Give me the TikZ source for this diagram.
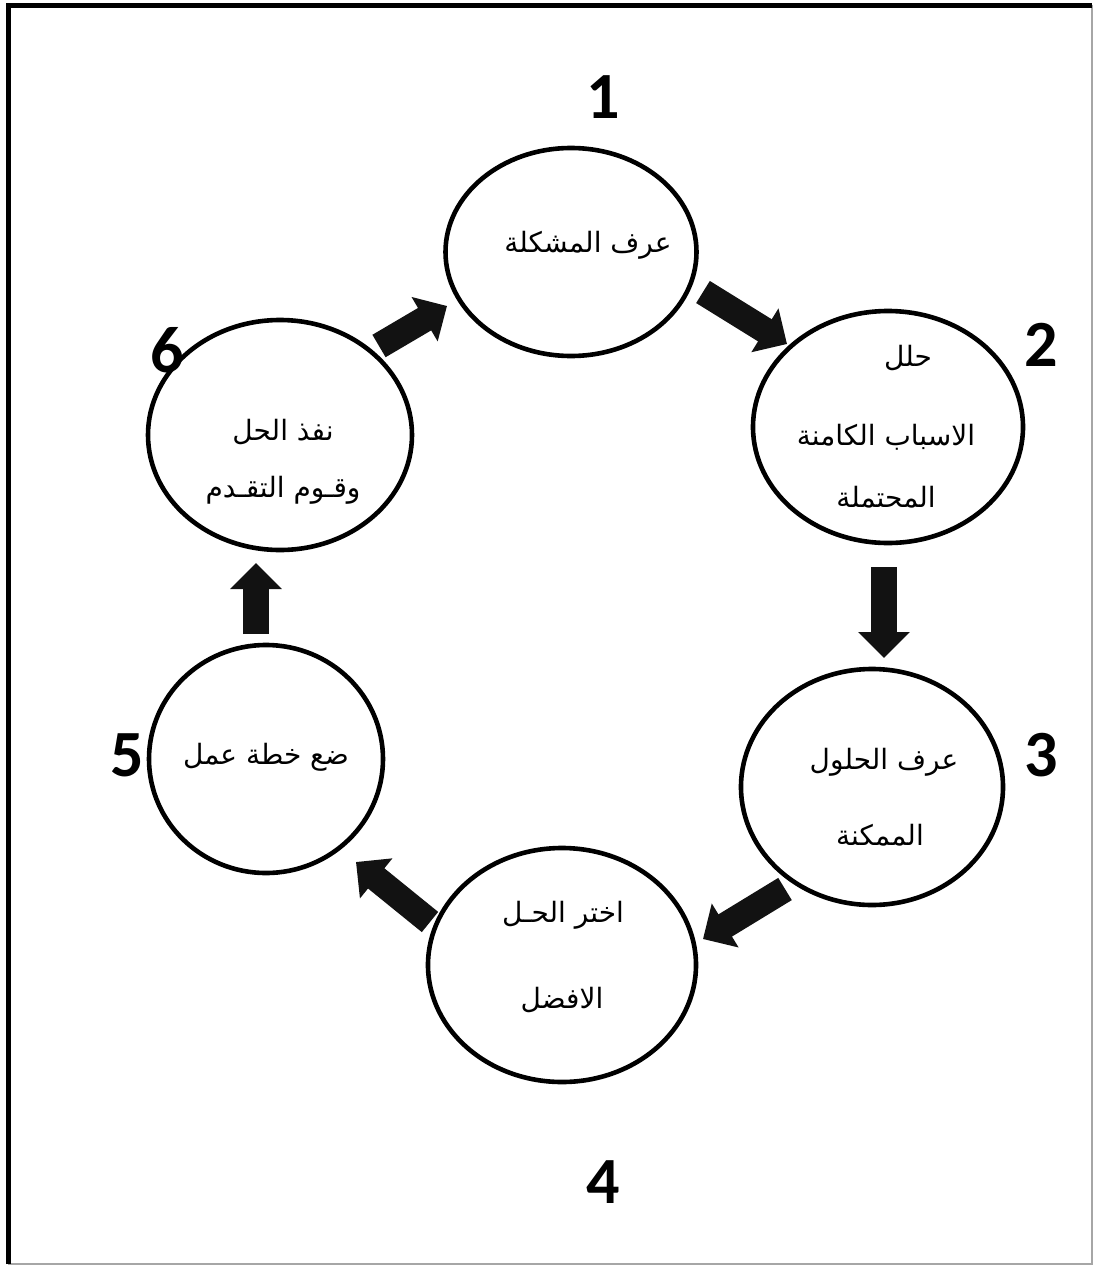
\documentclass[tikz,border=0pt]{standalone}
\usepackage{fontspec}
\usetikzlibrary{shapes.geometric,arrows.meta}
\TeXXeTstate=1
\newfontfamily\arabicfont[Script=Arabic]{DejaVu Sans}
\newfontfamily\numfont{Carlito}
\tikzset{
  stage/.style={ellipse, draw=black, line width=4.6pt, fill=white, inner sep=0pt},
  lbl/.style={font=\arabicfont\fontsize{28}{28}\selectfont, inner sep=0pt, anchor=center},
  num/.style={font=\numfont\bfseries\fontsize{66}{66}\selectfont, inner sep=0pt},
  blockarrow/.style={line width=26pt, draw=black!93, -{Triangle[width=50pt,length=26pt]}}
}
\begin{document}
\begin{tikzpicture}[x=1pt,y=-1pt]
\useasboundingbox (0,0) rectangle (1094,1266);
\fill[white] (0,0) rectangle (1094,1266);
% frame
\draw[gray!70, line width=2pt] (8,1264) -- (1092,1264) -- (1092,5);
\draw[black, line width=5pt] (8.5,1264) -- (8.5,5.5) -- (1092,5.5);

% stages
\node[stage, minimum width=251pt, minimum height=208pt] (s1) at (571,252) {};
\node[stage, minimum width=270pt, minimum height=232pt] (s2) at (888,427) {};
\node[stage, minimum width=262pt, minimum height=236pt] (s3) at (872,787) {};
\node[stage, minimum width=268pt, minimum height=234pt] (s4) at (562,965) {};
\node[stage, minimum width=234pt, minimum height=228pt] (s5) at (266,759) {};
\node[stage, minimum width=264pt, minimum height=230pt] (s6) at (280,435) {};

% texts
\node[lbl] (t1) at (588,245) {\beginR عرف المشكلة\endR};
\node[lbl] (t2a) at (908,358) {\beginR حلل\endR};
\node[lbl] (t2b) at (886,437) {\beginR الاسباب الكامنة\endR};
\node[lbl] (t2c) at (886,497) {\beginR المحتملة\endR};
\node[lbl] (t3a) at (884,762) {\beginR عرف الحلول\endR};
\node[lbl] (t3b) at (880,835) {\beginR الممكنة\endR};
\node[lbl] (t4a) at (563,915) {\beginR اختر الحـل\endR};
\node[lbl] (t4b) at (562,1000) {\beginR الافضل\endR};
\node[lbl] (t5) at (266,757) {\beginR ضع خطة عمل\endR};
\node[lbl] (t6a) at (283,432) {\beginR نفذ الحل\endR};
\node[lbl] (t6b) at (283,490) {\beginR وقـوم التقـدم\endR};

% numbers
\node[num] (n1) at (603,97) {1};
\node[num] (n2) at (1041,345) {2};
\node[num] (n3) at (1041,755) {3};
\node[num] (n4) at (603,1182) {4};
\node[num] (n5) at (127,755) {5};
\node[num] (n6) at (167,350) {6};

% arrow end points
\coordinate (a12s) at (703,292); \coordinate (a12e) at (787,344);
\coordinate (a23s) at (884,567); \coordinate (a23e) at (884,658);
\coordinate (a34s) at (785,889); \coordinate (a34e) at (703,939);
\coordinate (a45s) at (430,922); \coordinate (a45e) at (356,862);
\coordinate (a56s) at (256,634); \coordinate (a56e) at (256,563);
\coordinate (a61s) at (379,346); \coordinate (a61e) at (447,306);

\draw[blockarrow] (a12s) -- (a12e);
\draw[blockarrow] (a23s) -- (a23e);
\draw[blockarrow] (a34s) -- (a34e);
\draw[blockarrow] (a45s) -- (a45e);
\draw[blockarrow] (a56s) -- (a56e);
\draw[blockarrow] (a61s) -- (a61e);
\end{tikzpicture}
\end{document}
